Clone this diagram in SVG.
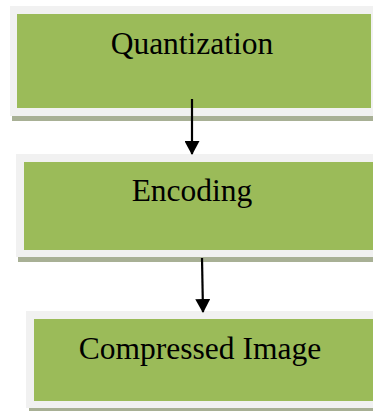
<svg xmlns="http://www.w3.org/2000/svg" width="373" height="411" viewBox="0 0 373 411">
<style>
.frame{fill:#F1F1F1}
.box{fill:#9BBB59}
.shadow{fill:#A8B095}
.label{font-family:"Liberation Serif","Times New Roman",serif;font-size:31.5px;fill:#000;text-anchor:middle}
.conn{stroke:#000;stroke-width:2.2;fill:none}
</style>
<defs>
<marker id="ah" markerWidth="15" markerHeight="15" refX="13" refY="7.5" orient="auto" markerUnits="userSpaceOnUse">
<path d="M0,0 L14,7.5 L0,15 Z" fill="#000"/>
</marker>
</defs>
<rect width="373" height="411" fill="#fff"/>
<g id="node-quantization">
<rect class="shadow" x="12" y="116" width="361" height="5"/>
<rect class="frame" x="10" y="6" width="363" height="110"/>
<rect class="box" x="17" y="14" width="354" height="94"/>
<text class="label" x="192" y="54">Quantization</text>
</g>
<g id="node-encoding">
<rect class="shadow" x="18" y="257" width="355" height="5"/>
<rect class="frame" x="16" y="154" width="357" height="103"/>
<rect class="box" x="24" y="162" width="349" height="88"/>
<text class="label" x="192" y="201">Encoding</text>
</g>
<g id="node-compressed">
<rect class="shadow" x="29" y="408" width="344" height="3"/>
<rect class="frame" x="26" y="311" width="347" height="97"/>
<rect class="box" x="34" y="319" width="339" height="82"/>
<text class="label" x="200" y="359">Compressed Image</text>
</g>
<g id="connectors">
<line class="conn" x1="192" y1="99" x2="192" y2="154" marker-end="url(#ah)"/>
<line class="conn" x1="202" y1="258" x2="203" y2="312" marker-end="url(#ah)"/>
</g>
</svg>
